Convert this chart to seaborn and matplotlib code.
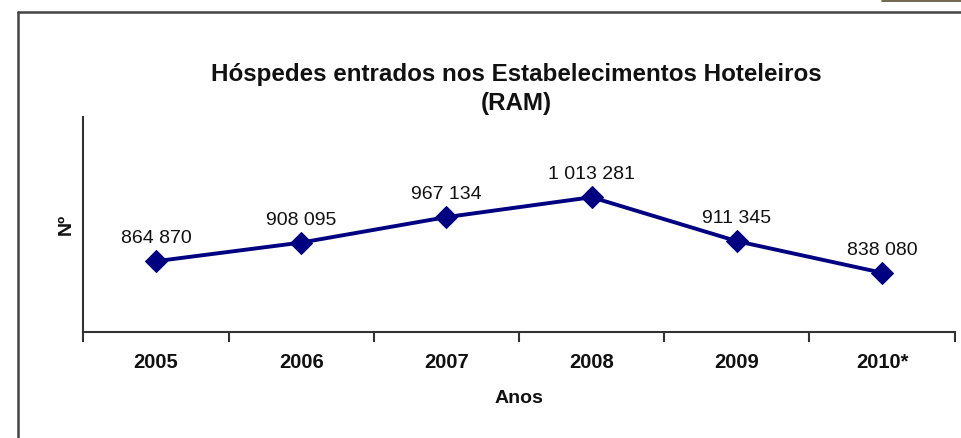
import matplotlib
matplotlib.use("Agg")
import matplotlib.pyplot as plt
import seaborn as sns
import numpy as np
import pandas as pd
from matplotlib.lines import Line2D

# ---- data ----
years = ["2005", "2006", "2007", "2008", "2009", "2010*"]
guests = [864870, 908095, 967134, 1013281, 911345, 838080]
value_labels = ["864 870", "908 095", "967 134", "1 013 281", "911 345", "838 080"]
title_text = "Hóspedes entrados nos Estabelecimentos Hoteleiros\n(RAM)"
x_label = "Anos"
y_label = "Nº"

sns.set_theme(style="white")
plt.rcParams['font.family'] = ['Liberation Sans', 'DejaVu Sans']

W, H = 962, 438
fig = plt.figure(figsize=(W / 100, H / 100), dpi=100)
ax = fig.add_axes([83.3 / W, 1 - 332.3 / H, (954.7 - 83.3) / W, (332.3 - 116.7) / H])

df = pd.DataFrame({"idx": np.arange(len(years)), "guests": guests})
sns.lineplot(data=df, x="idx", y="guests", ax=ax, color="#000080", linewidth=2.8,
             marker="D", markersize=11.5, markeredgecolor="#000080", markerfacecolor="#000080")

ax.set_xlim(-0.5, len(years) - 0.5)
ax.set_ylim(700000, 1200000)

for i, (v, lab) in enumerate(zip(guests, value_labels)):
    ax.annotate(lab, (i, v), xytext=(0, 10), textcoords="offset points",
                ha="center", va="bottom", fontsize=14, color="#111111")

# ticks: boundaries marked, labels at centres
ax.set_xticks(np.arange(len(years) + 1) - 0.5)
ax.set_xticklabels([])
ax.set_xticks(np.arange(len(years)), minor=True)
ax.set_xticklabels(years, minor=True, fontsize=14.5, fontweight="bold", color="#111111")
ax.tick_params(axis="x", which="major", direction="out", length=7, width=1.5, color="#333333", bottom=True)
ax.tick_params(axis="x", which="minor", length=0, pad=15, bottom=True)
ax.set_yticks([])

for s in ["top", "right"]:
    ax.spines[s].set_visible(False)
for s in ["left", "bottom"]:
    ax.spines[s].set_color("#333333")
    ax.spines[s].set_linewidth(1.5)

ax.set_xlabel(x_label, fontsize=14, fontweight="bold", color="#111111", labelpad=13)
ax.set_ylabel(y_label, fontsize=14, fontweight="bold", color="#111111", labelpad=6)

fig.text(516 / W, 1 - 63 / H, title_text, ha="center", va="top", fontsize=17.4,
         fontweight="bold", color="#111111", linespacing=1.35)

# outer frame (partially visible)
fig.add_artist(Line2D([18 / W, 18 / W], [0, 1 - 12 / H], transform=fig.transFigure,
                      color="#444444", linewidth=1.8))
fig.add_artist(Line2D([18 / W, 1], [1 - 12 / H, 1 - 12 / H], transform=fig.transFigure,
                      color="#444444", linewidth=1.8))
fig.add_artist(Line2D([882 / W, 1], [1 - 0.5 / H, 1 - 0.5 / H], transform=fig.transFigure,
                      color="#5b4b2f", linewidth=1.2))

fig.savefig("out.png", dpi=100)
